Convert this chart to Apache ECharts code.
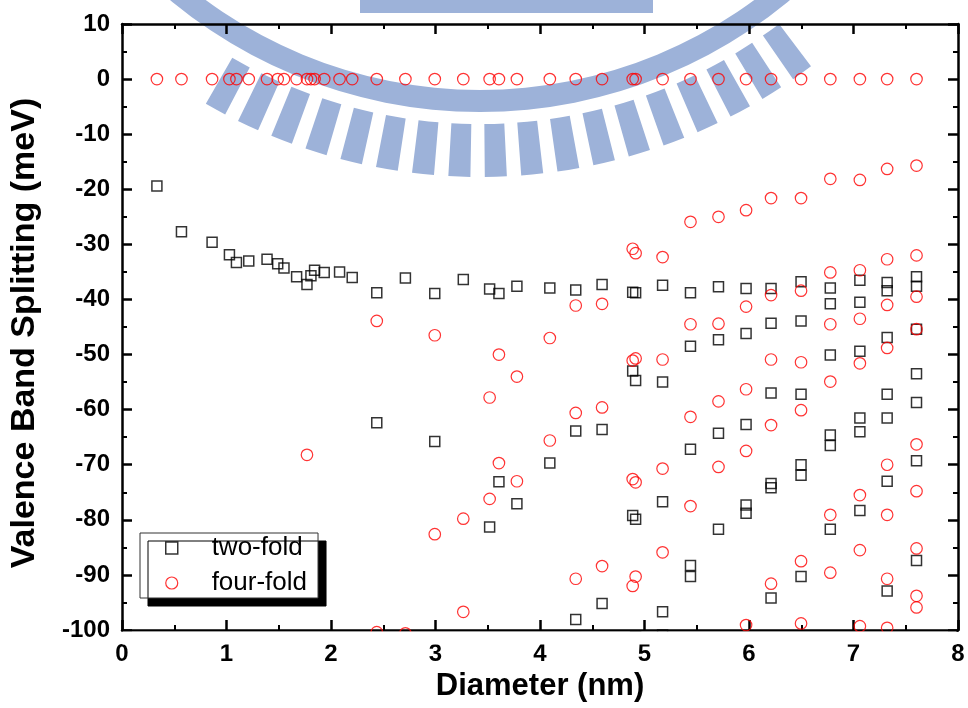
<!DOCTYPE html>
<html>
<head>
<meta charset="utf-8">
<script src="https://cdn.jsdelivr.net/npm/echarts@6/dist/echarts.min.js"></script>
<style>
  html, body { margin: 0; padding: 0; background: #fff; }
  #chart { width: 968px; height: 708px; }
</style>
</head>
<body>
<div id="chart"></div>
<script>
// Wire diameters (nm) at which the splittings were computed
const diameters = [
  0.334, 0.569, 0.862, 1.028, 1.095, 1.213, 1.388, 1.49, 1.55, 1.671,
  1.77, 1.808, 1.843, 1.935, 2.082, 2.203, 2.438, 2.712, 2.993, 3.266,
  3.518, 3.607, 3.779, 4.094, 4.342, 4.594, 4.887, 4.915, 5.173, 5.44,
  5.708, 5.972, 6.211, 6.498, 6.778, 7.061, 7.322, 7.603
];

// Two-fold degenerate levels (meV), one list per diameter
const twoFold = [
  [-19.4], [-27.7], [-29.6], [-31.9], [-33.3], [-33.0], [-32.7], [-33.5], [-34.3], [-35.9],
  [-37.3], [-35.7], [-34.7], [-35.1], [-35.0], [-36.0],
  [-38.8, -62.4],
  [-36.1],
  [-38.9, -65.8],
  [-36.4],
  [-38.1, -81.3],
  [-38.9, -73.1],
  [-37.6, -77.1],
  [-37.9, -69.7],
  [-38.3, -63.9, -98.1],
  [-37.3, -63.6, -95.2],
  [-38.7, -53.0, -79.2],
  [-38.8, -54.7, -79.9, -101.2],
  [-37.4, -55.0, -76.7, -96.7, -100.9],
  [-38.8, -48.5, -67.2, -88.3, -90.3],
  [-37.7, -47.3, -64.3, -81.7],
  [-38.0, -46.2, -62.7, -77.3, -78.8],
  [-38.0, -44.3, -57.0, -73.4, -74.2, -94.2],
  [-36.8, -43.9, -57.2, -70.0, -71.9, -90.3],
  [-37.9, -40.8, -50.1, -64.6, -66.5, -81.7],
  [-36.5, -40.5, -49.4, -61.5, -64.0, -78.3],
  [-36.9, -38.4, -46.9, -57.2, -61.5, -73.0, -92.9],
  [-35.9, -37.6, -45.4, -53.5, -58.7, -69.3, -87.4]
];

// Four-fold degenerate levels (meV), one list per diameter
const fourFold = [
  [0], [0], [0], [0], [0], [0], [0], [0], [0], [0],
  [0, -68.2], [0], [0], [0], [0], [0],
  [0, -43.9, -100.4],
  [0, -100.6],
  [0, -46.5, -82.6],
  [0, -79.8, -96.7],
  [0, -57.8, -76.2],
  [0, -50.0, -69.7],
  [0, -54.0, -73.0],
  [0, -47.0, -65.6],
  [0, -41.1, -60.6, -90.7],
  [0, -40.8, -59.6, -88.4],
  [0, -30.8, -51.1, -72.6, -92.0],
  [0, -31.6, -50.7, -73.2, -90.3],
  [0, -32.3, -50.9, -70.7, -85.9],
  [0, -25.9, -44.5, -61.3, -77.5],
  [0, -25.0, -44.4, -58.5, -70.4],
  [0, -23.8, -41.3, -56.3, -67.5, -99.1],
  [0, -21.6, -39.2, -50.9, -62.8, -91.6],
  [0, -21.6, -38.4, -51.4, -60.1, -87.5, -98.8],
  [0, -18.1, -35.1, -44.5, -54.9, -79.1, -89.6],
  [0, -18.3, -34.7, -43.5, -51.6, -75.5, -85.5, -99.3],
  [0, -16.3, -32.7, -41.0, -48.8, -70.0, -79.1, -90.7, -99.6],
  [0, -15.7, -32.0, -39.5, -45.4, -66.3, -74.8, -85.2, -93.8, -95.9]
];

const seriesNames = ['two-fold', 'four-fold'];
const xRange = { min: 0, max: 8, step: 1 };
const yRange = { min: -100, max: 10, step: 10 };

// Flatten per-diameter level lists into [diameter, energy] points
function toPoints(levels) {
  const pts = [];
  levels.forEach((ys, i) => ys.forEach(y => pts.push([diameters[i], y])));
  return pts;
}

const FONT = 'Arial, "Liberation Sans", sans-serif';
const W = 968, H = 708;
const grid = { left: 121, right: 10, top: 24, bottom: 78 };

const axisLine = { show: true, onZero: false, lineStyle: { color: '#000', width: 2.5 } };
const axisTick = { show: true, inside: true, length: 10, lineStyle: { color: '#000', width: 2.5 } };
const minorTick = { show: true, splitNumber: 2, length: 5, lineStyle: { color: '#000', width: 2 } };
const tickLabel = { fontSize: 24, fontWeight: 'bold', color: '#000', fontFamily: FONT };

// Pale emblem in the background: ring, radial bars and a bar inside the ring
const emblemColor = '#9db2d9';
const emblem = [];
const ecx = 480, ecy = -373;
emblem.push({ type: 'ring', z: -1, silent: true,
  shape: { cx: ecx, cy: ecy, r: 485, r0: 463 }, style: { fill: emblemColor } });
for (let a = 53; a <= 121; a += 3.8) {
  emblem.push({ type: 'sector', z: -1, silent: true,
    shape: { cx: ecx, cy: ecy, r0: 497, r: 550,
      startAngle: a * Math.PI / 180, endAngle: (a + 2.3) * Math.PI / 180 },
    style: { fill: emblemColor } });
}
emblem.push({ type: 'rect', z: -1, silent: true,
  shape: { x: 360, y: 0, width: 293, height: 13 }, style: { fill: emblemColor } });

// White strip under the bottom axis so marks on the lower edge look cut off
const plotRight = W - grid.right;
const plotBottom = H - grid.bottom;
const edgeMask = { type: 'rect', z: 100, silent: true,
  shape: { x: grid.left + 1.5, y: plotBottom + 1.4, width: plotRight - grid.left - 3, height: 13 },
  style: { fill: '#fff' } };

const chart = echarts.init(document.getElementById('chart'), null, { renderer: 'canvas' });
chart.setOption({
  animation: false,
  backgroundColor: '#fff',
  grid: grid,
  graphic: emblem.concat([edgeMask]),
  legend: {
    orient: 'vertical',
    left: 140, top: 533,
    padding: [2, 11, 2, 25],
    itemGap: 9,
    itemWidth: 12, itemHeight: 12,
    backgroundColor: '#fff',
    borderColor: '#333', borderWidth: 1,
    shadowColor: '#000', shadowBlur: 0, shadowOffsetX: 8, shadowOffsetY: 8,
    textStyle: { fontSize: 26, color: '#000', fontFamily: FONT },
    formatter: name => '    ' + name,
    data: [
      { name: seriesNames[0], icon: 'rect',
        itemStyle: { color: 'rgba(0,0,0,0)', borderColor: '#000', borderWidth: 1.5 } },
      { name: seriesNames[1], icon: 'circle',
        itemStyle: { color: 'rgba(0,0,0,0)', borderColor: '#ff0000', borderWidth: 1.2 } }
    ]
  },
  xAxis: [
    { type: 'value', position: 'bottom', min: xRange.min, max: xRange.max, interval: xRange.step,
      name: 'Diameter (nm)', nameLocation: 'middle', nameGap: 41,
      nameTextStyle: { fontSize: 31, fontWeight: 'bold', color: '#000', fontFamily: FONT },
      axisLine, axisTick, minorTick, splitLine: { show: false },
      axisLabel: Object.assign({ margin: 12 }, tickLabel) },
    { type: 'value', position: 'top', min: xRange.min, max: xRange.max, interval: xRange.step,
      axisLine, axisTick, minorTick, splitLine: { show: false }, axisLabel: { show: false } }
  ],
  yAxis: [
    { type: 'value', position: 'left', min: yRange.min, max: yRange.max, interval: yRange.step,
      name: 'Valence Band Splitting (meV)', nameLocation: 'middle', nameGap: 80,
      nameTextStyle: { fontSize: 34, fontWeight: 'bold', color: '#000', fontFamily: FONT,
        padding: [0, 12, 0, 0] },
      axisLine, axisTick, minorTick, splitLine: { show: false },
      axisLabel: Object.assign({ margin: 12 }, tickLabel) },
    { type: 'value', position: 'right', min: yRange.min, max: yRange.max, interval: yRange.step,
      axisLine, axisTick, minorTick, splitLine: { show: false }, axisLabel: { show: false } }
  ],
  series: [
    { type: 'scatter', name: seriesNames[0], data: toPoints(twoFold),
      xAxisIndex: 0, yAxisIndex: 0, clip: false, z: 3,
      symbol: 'rect', symbolSize: 10,
      itemStyle: { color: 'rgba(0,0,0,0)', borderColor: '#000', borderWidth: 1.5 },
      emphasis: { disabled: true } },
    { type: 'scatter', name: seriesNames[1], data: toPoints(fourFold),
      xAxisIndex: 0, yAxisIndex: 0, clip: false, z: 4,
      symbol: 'circle', symbolSize: 11.5,
      itemStyle: { color: 'rgba(0,0,0,0)', borderColor: '#ff0000', borderWidth: 1.2 },
      emphasis: { disabled: true } }
  ]
});
</script>
</body>
</html>
